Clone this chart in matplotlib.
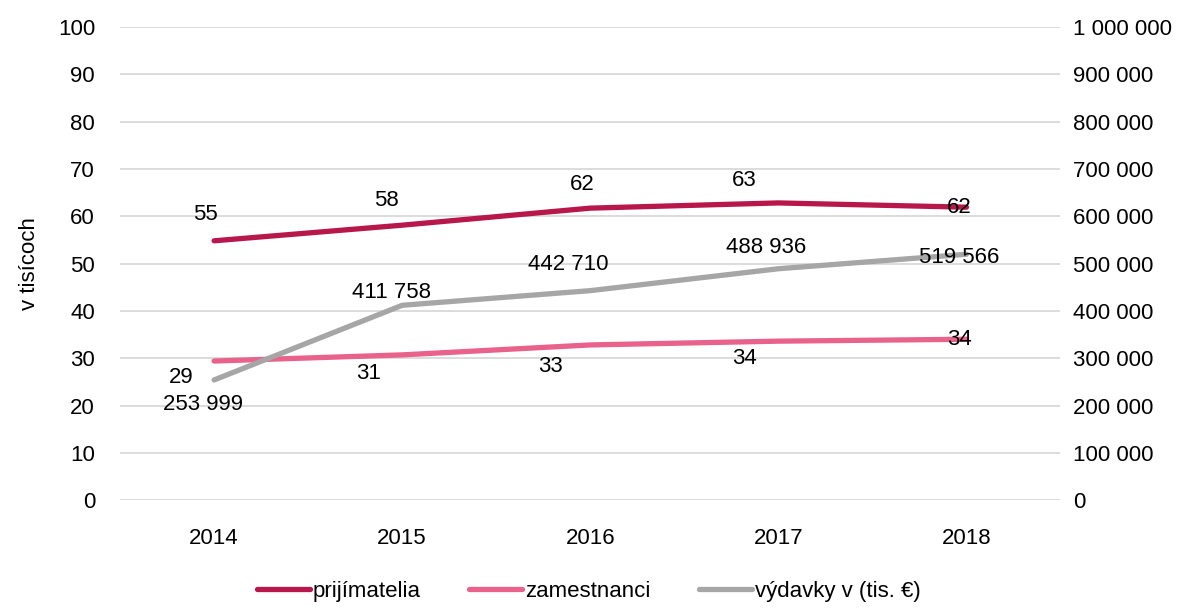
import matplotlib
matplotlib.use("Agg")
import matplotlib.pyplot as plt
from matplotlib.ticker import FuncFormatter

plt.rcParams['font.family'] = ['Liberation Sans', 'DejaVu Sans']

# data
years = ['2014', '2015', '2016', '2017', '2018']
prijimatelia = [54.8, 58.1, 61.7, 62.8, 61.9]
zamestnanci = [29.4, 30.7, 32.8, 33.6, 34.0]
vydavky = [253999, 411758, 442710, 488936, 519566]

c_prij = '#B8174C'
c_zam = '#E8628B'
c_vyd = '#A6A6A6'
FS = 16


def thousands(v, pos=None):
    return f'{int(round(v)):,}'.replace(',', ' ')


fig = plt.figure(figsize=(11.77, 6.10), dpi=100)
ax = fig.add_axes([0.102, 0.18, 0.799, 0.776])
ax2 = ax.twinx()

x = range(len(years))
ax.plot(x, prijimatelia, color=c_prij, lw=3.8, solid_capstyle='round', label='prijímatelia', zorder=3)
ax.plot(x, zamestnanci, color=c_zam, lw=3.8, solid_capstyle='round', label='zamestnanci', zorder=3)
ax2.plot(x, vydavky, color=c_vyd, lw=3.8, solid_capstyle='round', label='výdavky v (tis. €)', zorder=3)

ax.set_xlim(-0.5, 4.5)
ax.set_ylim(0, 100)
ax2.set_ylim(0, 1000000)
ax.set_yticks(range(0, 101, 10))
ax2.set_yticks(range(0, 1000001, 100000))
ax2.yaxis.set_major_formatter(FuncFormatter(thousands))
ax.set_xticks(list(x))
ax.set_xticklabels(years)

ax.grid(axis='y', color='#D9D9D9', lw=1.3, zorder=0)
ax.set_axisbelow(True)
for a in (ax, ax2):
    for s in a.spines.values():
        s.set_visible(False)
    a.tick_params(length=0, labelsize=FS)
ax.tick_params(axis='x', pad=20)
ax.tick_params(axis='y', pad=18)
ax2.tick_params(axis='y', pad=9)
ax.set_ylabel('v tisícoch', fontsize=FS)
ax.yaxis.set_label_coords(-0.085, 0.5)

# label offsets in pixels (dx, dy)
off_prij = [(-9, 26), (-16, 25), (-8, 24), (-34, 22), (-7, 0)]
off_zam = [(-33, -16), (-34, -19), (-40, -22), (-34, -17), (-7, 0)]
off_vyd = [(-11, -25), (-11, 13), (-22, 26), (-12, 21), (-7, -3)]

for i in x:
    ax.annotate(str(round(prijimatelia[i])), (i, prijimatelia[i]), xytext=off_prij[i],
                textcoords='offset pixels', ha='center', va='center', fontsize=FS, zorder=5)
    ax.annotate(str(round(zamestnanci[i])), (i, zamestnanci[i]), xytext=off_zam[i],
                textcoords='offset pixels', ha='center', va='center', fontsize=FS, zorder=5)
    ax2.annotate(thousands(vydavky[i]), (i, vydavky[i]), xytext=off_vyd[i],
                 textcoords='offset pixels', ha='center', va='center', fontsize=FS, zorder=5)

h1, l1 = ax.get_legend_handles_labels()
h2, l2 = ax2.get_legend_handles_labels()
fig.legend(h1 + h2, l1 + l2, loc='center', bbox_to_anchor=(0.5, 0.03), ncol=3, frameon=False,
           fontsize=FS, handlelength=2.4, handletextpad=0.1, columnspacing=2.2)

fig.savefig('out.png', dpi=100)
